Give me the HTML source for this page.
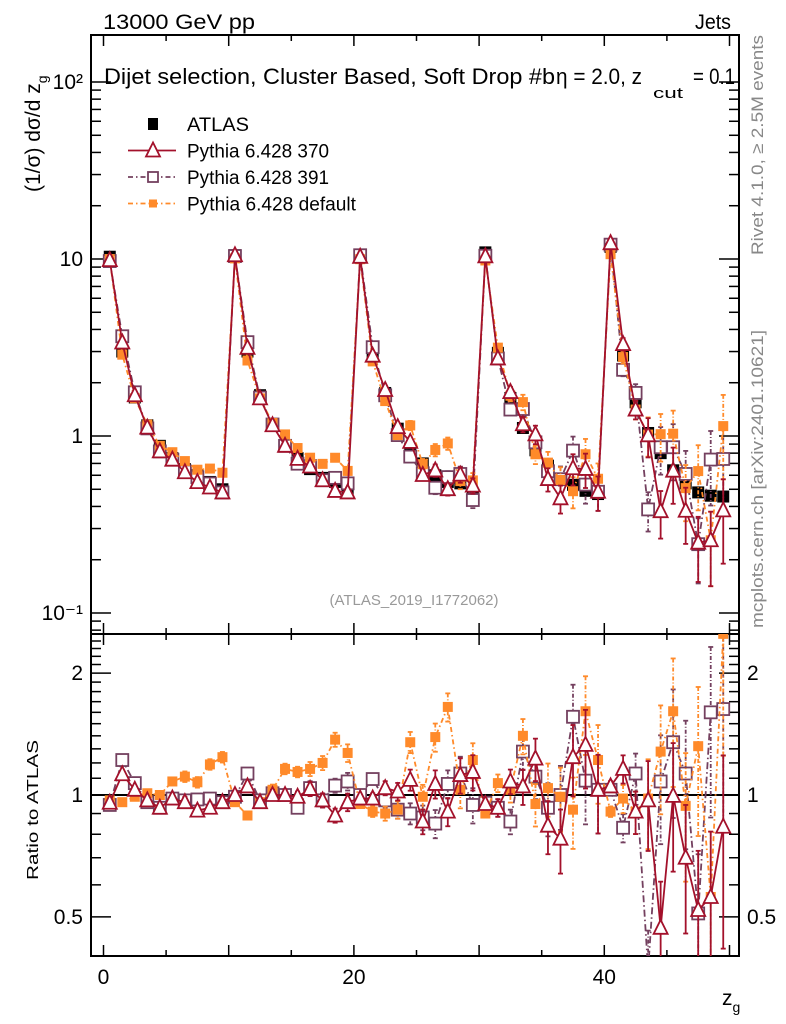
<!DOCTYPE html>
<html><head><meta charset="utf-8">
<style>
html,body{margin:0;padding:0;background:#fff;}
svg{display:block;font-family:"Liberation Sans",sans-serif;}
</style></head>
<body>
<svg id="chart" width="786" height="1024" viewBox="0 0 786 1024" xmlns="http://www.w3.org/2000/svg">
<defs>
<clipPath id="clipMain"><rect x="91" y="35" width="648" height="599"/></clipPath>
<clipPath id="clipRatio"><rect x="91" y="634" width="648" height="322"/></clipPath>
</defs>
<text x="103" y="29" font-size="21" textLength="152" lengthAdjust="spacingAndGlyphs">13000 GeV pp</text>
<text x="695" y="29" font-size="21" textLength="36" lengthAdjust="spacingAndGlyphs">Jets</text>
<text x="104" y="84" font-size="22" textLength="451" lengthAdjust="spacingAndGlyphs">Dijet selection, Cluster Based, Soft Drop #b</text>
<text x="556" y="84" font-size="22" textLength="86" lengthAdjust="spacingAndGlyphs">η = 2.0, z</text>
<text x="653" y="98" font-size="15" textLength="30" lengthAdjust="spacingAndGlyphs">cut</text>
<text x="693" y="84" font-size="22" textLength="42" lengthAdjust="spacingAndGlyphs">= 0.1</text>
<text transform="translate(40,192) rotate(-90)" font-size="21">(1/σ) dσ/d z<tspan font-size="14" dy="7">g</tspan></text>
<text transform="translate(38,880) rotate(-90)" font-size="16" textLength="140" lengthAdjust="spacingAndGlyphs">Ratio to ATLAS</text>
<text x="722" y="1005" font-size="21">z<tspan font-size="14" dy="7">g</tspan></text>
<text transform="translate(763,255) rotate(-90)" font-size="17" fill="#888" textLength="220" lengthAdjust="spacingAndGlyphs">Rivet 4.1.0, ≥ 2.5M events</text>
<text transform="translate(763,628) rotate(-90)" font-size="17" fill="#888" textLength="298" lengthAdjust="spacingAndGlyphs">mcplots.cern.ch [arXiv:2401.10621]</text>
<text x="414" y="605" font-size="15" fill="#999" text-anchor="middle">(ATLAS_2019_I1772062)</text>
<g id="legend"></g>
<g id="axes"></g>
<g id="mainMarks" clip-path="url(#clipMain)"></g>
<g id="ratioMarks" clip-path="url(#clipRatio)"></g>
</svg>
<script>
const zgBins = [0.5,1.5,2.5,3.5,4.5,5.5,6.5,7.5,8.5,9.5,10.5,11.5,12.5,13.5,14.5,15.5,16.5,17.5,18.5,19.5,20.5,21.5,22.5,23.5,24.5,25.5,26.5,27.5,28.5,29.5,30.5,31.5,32.5,33.5,34.5,35.5,36.5,37.5,38.5,39.5,40.5,41.5,42.5,43.5,44.5,45.5,46.5,47.5,48.5,49.5];
const atlasValues = [10.3,3.0,1.65,1.15,0.88,0.75,0.65,0.6,0.55,0.5, 10.5,3.0,1.7,1.15,0.88,0.75,0.65,0.58,0.55,0.5, 10.5,2.9,1.75,1.1,0.85,0.7,0.6,0.55,0.54,0.46, 10.9,2.95,1.64,1.11,0.83,0.68,0.57,0.53,0.49,0.47, 11.7,2.85,1.55,1.04,0.8,0.64,0.54,0.48,0.46,0.455];
const ratio370 = [0.957,1.125,1.03,0.97,0.93,0.98,0.96,0.915,0.93,0.96, 1.0,1.05,0.96,1.0,1.0,0.99,1.035,0.97,0.89,0.96, 0.98,0.98,1.04,1.02,1.09,0.86,1.065,0.91,1.12,1.14, 0.95,0.93,1.08,1.05,1.23,0.84,0.78,1.24,1.33,1.03, 1.05,1.16,0.91,0.97,0.47,0.995,0.70,0.52,0.56,0.835];
const ratio391 = [0.945,1.22,1.07,0.96,0.93,0.98,0.97,0.975,0.98,0.96, 0.99,1.13,0.97,1.01,1.0,0.93,1.04,0.97,1.055,1.08, 1.0,1.095,0.97,0.92,0.90,0.88,0.85,1.065,1.13,0.945, 0.957,0.93,0.86,1.28,1.11,0.93,1.0,1.56,1.085,1.03, 1.03,0.83,1.13,0.37,1.08,1.35,1.13,0.51,1.6,1.63];
const ratioDefault = [0.97,0.96,0.99,1.01,1.0,1.08,1.11,1.075,1.19,1.24, 0.96,0.89,0.96,1.03,1.16,1.14,1.16,1.2,1.37,1.27, 0.95,0.91,0.9,0.92,1.35,0.99,1.39,1.65,1.03,1.22, 0.9,1.07,1.03,1.4,0.95,1.04,0.99,0.92,1.61,1.22, 0.91,0.98,0.91,0.98,1.28,1.61,0.94,1.32,0.56,2.5];
const mcRelErr = [0.01,0.02,0.02,0.02,0.02,0.02,0.03,0.03,0.03,0.03, 0.01,0.02,0.02,0.03,0.03,0.03,0.04,0.04,0.04,0.05, 0.02,0.03,0.04,0.05,0.06,0.07,0.08,0.08,0.1,0.1, 0.02,0.05,0.07,0.1,0.12,0.15,0.18,0.2,0.22,0.22, 0.03,0.08,0.12,0.25,0.3,0.35,0.35,0.4,0.45,0.5];
const mainTickLabels = ["10\u207B\u00B9","1","10","10\u00B2"];
const ratioTickLabels = ["0.5","1","2"];
const xTickLabels = ["0","20","40"];

const NS="http://www.w3.org/2000/svg";
const X0=103.5, XS=12.52;
const xp=v=>X0+v*XS;
const yMain=v=>436-177*Math.log10(v);
const yRatio=v=>795-405*Math.log10(v);
function mk(tag,attrs,parent){const e=document.createElementNS(NS,tag);for(const k in attrs)e.setAttribute(k,attrs[k]);parent.appendChild(e);return e;}
const axes=document.getElementById('axes');
const mainG=document.getElementById('mainMarks');
const ratioG=document.getElementById('ratioMarks');
const legend=document.getElementById('legend');

let f1=mk('rect',{x:91,y:35,width:648,height:599,fill:'none',stroke:'#000','stroke-width':2},axes);


let f2=mk('rect',{x:91,y:634,width:648,height:322,fill:'none',stroke:'#000','stroke-width':2},axes);



for(let v=0;v<=50;v+=5){
  const major=v%10===0, L=major?11:6, x=xp(v);
  for(const yb of [35,634]){ mk('line',{x1:x,x2:x,y1:yb,y2:yb+L,stroke:'#000','stroke-width':1.5},axes); }
  for(const yb of [634,956]){ mk('line',{x1:x,x2:x,y1:yb,y2:yb-L,stroke:'#000','stroke-width':1.5},axes); }
}
xTickLabels.forEach(s=>{
  const t=mk('text',{x:xp(+s),y:984,'font-size':21,'text-anchor':'middle'},axes);
  t.textContent=s;
  
  
});
for(let d=-2;d<=2;d++){
  for(let m=1;m<=9;m++){
    const v=m*Math.pow(10,d); const y=yMain(v);
    if(y<35||y>634) continue;
    const L=m===1?20:10;
    mk('line',{x1:91,x2:91+L,y1:y,y2:y,stroke:'#000','stroke-width':1.5},axes);
    mk('line',{x1:739,x2:739-L,y1:y,y2:y,stroke:'#000','stroke-width':1.5},axes);
  }
}
mainTickLabels.forEach((s,i)=>{
  const v=Math.pow(10,i-1);
  const t=mk('text',{x:83,y:yMain(v)+7,'font-size':21,'text-anchor':'end'},axes);
  t.textContent=s;
  
  
});
for(let k=4;k<=25;k++){
  const v=k/10; const y=yRatio(v);
  if(y<634||y>956) continue;
  const major=(k===5||k===10||k===20), L=major?20:10;
  mk('line',{x1:91,x2:91+L,y1:y,y2:y,stroke:'#000','stroke-width':1.5},axes);
  mk('line',{x1:739,x2:739-L,y1:y,y2:y,stroke:'#000','stroke-width':1.5},axes);
}
ratioTickLabels.forEach(s=>{
  const y=yRatio(+s)+7;
  const t=mk('text',{x:83,y:y,'font-size':21,'text-anchor':'end'},axes);
  t.textContent=s;
  
  
  const t2=mk('text',{x:747,y:y,'font-size':21},axes);
  t2.textContent=s;
  
  
});
const ref=mk('line',{x1:91,x2:739,y1:yRatio(1),y2:yRatio(1),stroke:'#000','stroke-width':2},ratioG);



function marker(g,type,cx,cy,color){
  let e;
  if(type==='tri') e=mk('polygon',{points:`${cx},${cy-8} ${cx-7},${cy+6} ${cx+7},${cy+6}`,fill:'#fff',stroke:color,'stroke-width':1.8},g);
  else if(type==='osq') e=mk('rect',{x:cx-6,y:cy-6,width:12,height:12,fill:'#fff',stroke:color,'stroke-width':1.8},g);
  else if(type==='fsq') e=mk('rect',{x:cx-5,y:cy-5,width:10,height:10,fill:color},g);
  else e=mk('rect',{x:cx-6,y:cy-6,width:12,height:12,fill:color},g);
  return e;
}
const series=[
  {name:'pythia-391',ratio:ratio391,color:'#74405f',type:'osq',dash:'7 3 1.5 3'},
  {name:'pythia-default',ratio:ratioDefault,color:'#ff8a2a',type:'fsq',dash:'5 3 1.5 3'},
  {name:'pythia-370',ratio:ratio370,color:'#a3112b',type:'tri',dash:''}
];
const atlasG=mk('g',{},mainG);


atlasValues.forEach((v,i)=>{
  const m=marker(atlasG,'atlas',xp(zgBins[i]),yMain(v),'#000');
  
  
});
function drawSeries(s,g,yf,valFn){
  const pts=zgBins.map((b,i)=>[xp(b),yf(valFn(i))]);
  const line=mk('polyline',{points:pts.map(p=>p.join(',')).join(' '),fill:'none',stroke:s.color,'stroke-width':1.8},g);
  if(s.dash) line.setAttribute('stroke-dasharray',s.dash);
  
  
  zgBins.forEach((b,i)=>{
    const v=valFn(i), e=mcRelErr[i];
    const x=xp(b), y1=yf(v*(1+e)), y2=yf(Math.max(v*(1-e),1e-4));
    const bar=mk('line',{x1:x,x2:x,y1:y1,y2:y2,stroke:s.color,'stroke-width':1.8},g);
    if(s.dash) bar.setAttribute('stroke-dasharray','4 2 1 2');
    
    
    mk('line',{x1:x-2.5,x2:x+2.5,y1:y1,y2:y1,stroke:s.color,'stroke-width':1.8},g);
    mk('line',{x1:x-2.5,x2:x+2.5,y1:y2,y2:y2,stroke:s.color,'stroke-width':1.8},g);
    const m=marker(g,s.type,x,yf(v),s.color);
    
    
  });
}
series.forEach(s=>{
  const gm=mk('g',{},mainG);
  
  
  drawSeries(s,gm,yMain,i=>atlasValues[i]*s.ratio[i]);
  const gr=mk('g',{},ratioG);
  
  
  drawSeries(s,gr,yRatio,i=>s.ratio[i]);
});

const legItems=[
  {label:'ATLAS',type:'atlas',color:'#000',dash:null,name:'legend-atlas',w:62},
  {label:'Pythia 6.428 370',type:'tri',color:'#a3112b',dash:'',name:'legend-pythia-370',w:142},
  {label:'Pythia 6.428 391',type:'osq',color:'#74405f',dash:'5 3 1.5 3',name:'legend-pythia-391',w:142},
  {label:'Pythia 6.428 default',type:'fsq',color:'#ff8a2a',dash:'5 3 1.5 3',name:'legend-pythia-default',w:169}
];
legItems.forEach((it,i)=>{
  const y=124+i*26.5;
  const g=mk('g',{},legend);
  
  
  if(it.dash!==null){
    const l=mk('line',{x1:128,x2:176,y1:y,y2:y,stroke:it.color,'stroke-width':1.8},g);
    if(it.dash) l.setAttribute('stroke-dasharray',it.dash);
  }
  if(it.type==='atlas') mk('rect',{x:148,y:y-6,width:10,height:12,fill:'#000'},g);
  else if(it.type==='tri') mk('polygon',{points:`153,${y-8} 146,${y+6} 160,${y+6}`,fill:'#fff',stroke:it.color,'stroke-width':1.8},g);
  else if(it.type==='osq') mk('rect',{x:148,y:y-5,width:10,height:10,fill:'#fff',stroke:it.color,'stroke-width':1.8},g);
  else mk('rect',{x:149,y:y-4,width:8,height:8,fill:it.color},g);
  const t=mk('text',{x:187,y:y+7,'font-size':19,textLength:it.w,lengthAdjust:'spacingAndGlyphs'},g);
  t.textContent=it.label;
});
</script>
</body></html>
